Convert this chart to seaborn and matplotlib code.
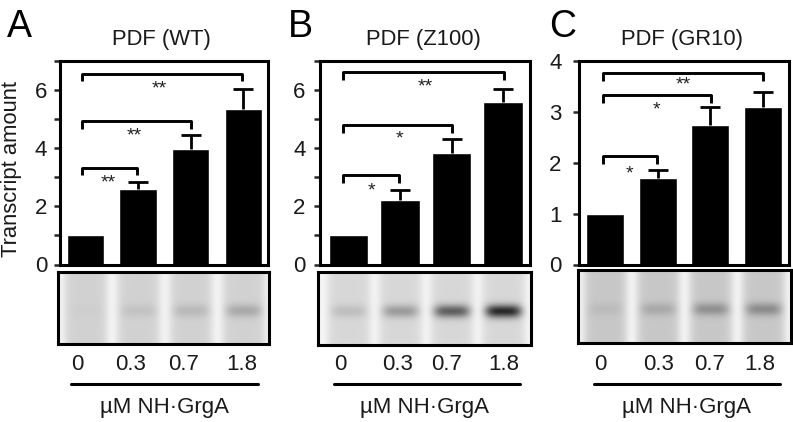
import numpy as np
import pandas as pd
import matplotlib
matplotlib.use('Agg')
import matplotlib.pyplot as plt
from matplotlib.lines import Line2D
from matplotlib.ticker import MultipleLocator
import seaborn as sns

# ---------- data ----------
doses = ['0', '0.3', '0.7', '1.8']

wt_values = [1.0, 2.59, 3.95, 5.35]
wt_err_top = [np.nan, 2.83, 4.45, 6.02]
z100_values = [1.0, 2.23, 3.85, 5.6]
z100_err_top = [np.nan, 2.57, 4.33, 6.03]
gr10_values = [1.0, 1.71, 2.74, 3.1]
gr10_err_top = [np.nan, 1.86, 3.1, 3.4]

wt_stars = ['**', '**', '**']
z100_stars = ['*', '*', '**']
gr10_stars = ['*', '*', '**']

# bracket heights, lowest first
wt_brackets = [3.32, 4.92, 6.55]
z100_brackets = [3.07, 4.8, 6.63]
gr10_brackets = [2.14, 3.34, 3.78]

# band darkness in each gel lane, then how dark the lane itself is
wt_bands = [3, 15, 25, 40]
z100_bands = [25, 60, 120, 175]
gr10_bands = [12, 30, 55, 60]
wt_lane = 36
z100_lane = 30
gr10_lane = 46

# ---------- layout, in pixels of the 793x422 picture ----------
W, H = 793, 422
panels = [
    dict(letter='A', letter_x=7, title='PDF (WT)', title_x=161, values=wt_values, err=wt_err_top,
         stars=wt_stars, brackets=wt_brackets, bands=wt_bands, lane=wt_lane, ymax=7, ticks=(2, 1), pad=5,
         box=(59.5, 268, 60.5, 264.5), centers=(85.5, 52.6), width=0.71, drop=0.26,
         start=-0.07, ends=[0.98, 2.0, 2.97],
         star_x=[0.44, 0.92, 1.4], star_y=[2.93, 4.54, 6.15],
         gel=(58, 269, 272, 344), labels_x=[77, 131, 184, 242], line=(71, 258), xlabel_x=164),
    dict(letter='B', letter_x=288, title='PDF (Z100)', title_x=423, values=z100_values, err=z100_err_top,
         stars=z100_stars, brackets=z100_brackets, bands=z100_bands, lane=z100_lane, ymax=7, ticks=(2, 1), pad=6.5,
         box=(320, 530, 61, 264.5), centers=(348.5, 51.5), width=0.76, drop=0.27,
         start=-0.1, ends=[0.98, 2.01, 3.02],
         star_x=[0.44, 0.98, 1.5], star_y=[2.66, 4.45, 6.24],
         gel=(318, 531, 272, 345), labels_x=[340, 398, 447, 504], line=(334, 520), xlabel_x=425),
    dict(letter='C', letter_x=549, title='PDF (GR10)', title_x=682, values=gr10_values, err=gr10_err_top,
         stars=gr10_stars, brackets=gr10_brackets, bands=gr10_bands, lane=gr10_lane, ymax=4, ticks=(1, 1), pad=8.5,
         box=(579, 789, 61.5, 264.5), centers=(605, 52.7), width=0.72, drop=0.16,
         start=-0.03, ends=[0.99, 2.01, 3.0],
         star_x=[0.47, 0.98, 1.49], star_y=[1.85, 3.12, 3.6],
         gel=(578, 791, 270, 343), labels_x=[600, 659, 710, 760], line=(594, 780), xlabel_x=686),
]

sns.set_theme(style='white')
plt.rcParams['font.family'] = ['Liberation Sans', 'DejaVu Sans']
plt.rcParams['text.color'] = '#1a1a1a'


def fx(x):
    return x / W


def fy(y):
    return 1 - y / H


def make_axes(fig, left, right, top, bottom):
    return fig.add_axes([fx(left), fy(bottom), (right - left) / W, (bottom - top) / H])


def gel_image(p):
    # lanes on a pale background, one blurred band per lane
    left, right, top, bottom = p['gel']
    nx, ny = int(right - left), int(bottom - top)
    xs = np.arange(nx) + left
    ys = np.arange(ny)
    c0, step = p['centers']
    lane = np.zeros(nx)
    band_x = []
    for k in range(4):
        cx = c0 + k * step
        lane += np.exp(-((xs - cx) / 22.0) ** 6)
        band_x.append(np.exp(-((xs - cx) / 18.0) ** 4))
    img = 245 - p['lane'] * np.tile(lane, (ny, 1))
    band_y = np.exp(-((ys - 0.53 * ny) / 6.5) ** 2)
    for k in range(4):
        img -= p['bands'][k] * np.outer(band_y, band_x[k])
    return np.clip(img, 0, 255)


fig = plt.figure(figsize=(W / 100, H / 100), dpi=100)

for p in panels:
    left, right, top, bottom = p['box']
    ax = make_axes(fig, left, right, top, bottom)
    df = pd.DataFrame({'dose': doses, 'amount': p['values']})
    sns.barplot(data=df, x='dose', y='amount', color='black', saturation=1, width=p['width'],
                errorbar=None, ax=ax)
    xpos = np.arange(4)
    val = np.array(p['values'])
    top_err = np.array(p['err'])
    eb = ax.errorbar(xpos[1:], val[1:], yerr=[np.zeros(3), top_err[1:] - val[1:]], fmt='none',
                     ecolor='black', elinewidth=2.0, capsize=7.2, capthick=2.0)
    eb[1][0].set_visible(False)  # no lower cap on the bar top

    c0, step = p['centers']
    ax.set_xlim((left - c0) / step, 3 + (right - (c0 + 3 * step)) / step)
    ax.set_ylim(0, p['ymax'])
    ax.set_xlabel('')
    ax.set_ylabel('')
    ax.set_xticks([])
    ax.yaxis.set_major_locator(MultipleLocator(p['ticks'][0]))
    ax.yaxis.set_minor_locator(MultipleLocator(p['ticks'][1]))
    ax.tick_params(axis='y', which='both', left=True, length=4, width=1.8, pad=p['pad'], labelsize=16,
                   labelcolor='#1a1a1a')
    for s in ax.spines.values():
        s.set_visible(True)
        s.set_linewidth(2.2)
        s.set_color('black')

    # significance brackets
    for i in range(3):
        h = p['brackets'][i]
        ax.plot([p['start'], p['start'], p['ends'][i], p['ends'][i]],
                [h - p['drop'], h, h, h - p['drop']], color='black', lw=2.1,
                solid_joinstyle='round', solid_capstyle='butt')
        ax.annotate(p['stars'][i], (p['star_x'][i], p['star_y'][i]), xytext=(0, -5.8),
                    textcoords='offset points', ha='center', va='baseline', fontsize=14,
                    color='#222222')

    # gel strip
    gl, gr, gt, gb = p['gel']
    gax = make_axes(fig, gl, gr, gt, gb)
    sns.heatmap(gel_image(p), cmap='gray', vmin=0, vmax=255, cbar=False,
                xticklabels=False, yticklabels=False, ax=gax)
    for s in gax.spines.values():
        s.set_visible(True)
        s.set_linewidth(2.2)
        s.set_color('black')

    # labels under the gel
    for lx, d in zip(p['labels_x'], doses):
        fig.text(fx(lx), fy(365), d, ha='center', va='center', fontsize=16)
    fig.add_artist(Line2D([fx(p['line'][0]), fx(p['line'][1])], [fy(383.5), fy(383.5)],
                          color='black', lw=2.2))
    fig.text(fx(p['xlabel_x']), fy(408), 'µM NH·GrgA', ha='center', va='center', fontsize=16)
    fig.text(fx(p['title_x']), fy(39), p['title'], ha='center', va='center', fontsize=15.8)
    fig.text(fx(p['letter_x']), fy(27), p['letter'], ha='left', va='center', fontsize=27, color='black')

fig.text(fx(12), fy(169), 'Transcript amount', rotation=90, ha='center', va='center', fontsize=15.8)

fig.savefig('out.png', dpi=100)
